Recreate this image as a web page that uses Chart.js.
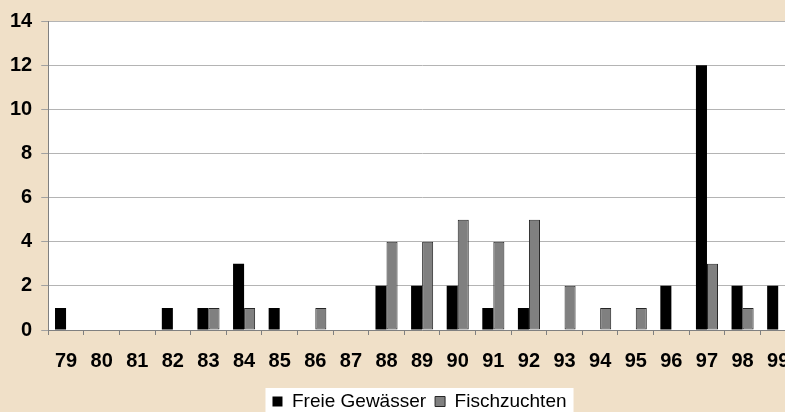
<!DOCTYPE html>
<html><head><meta charset="utf-8">
<script src="https://cdn.jsdelivr.net/npm/chart.js@4.4.1/dist/chart.umd.min.js"></script>
<style>
html,body{margin:0;padding:0;background:#F0E0C8;overflow:hidden;width:785px;height:412px;}
#wrap{position:absolute;left:0;top:0;width:840px;height:425px;}
</style></head><body>
<div id="wrap"><canvas id="c" width="840" height="425"></canvas></div>
<script>
const years = ['79','80','81','82','83','84','85','86','87','88','89','90','91','92','93','94','95','96','97','98','99'];
const freieGewaesser = [1,0,0,1,1,3,1,0,0,2,2,2,1,1,0,0,0,2,12,2,2];
const fischzuchten   = [0,0,0,0,1,1,0,1,0,4,4,5,4,5,2,1,1,0,3,1,0];
const seriesNames = ['Freie Gewässer','Fischzuchten'];
const yMin = 0, yMax = 14, yStep = 2;

const bgPlugin = {
  id: 'bg',
  afterLayout(chart) {
    const lg = chart.legend;
    if (lg) { lg.left += 21; lg.right += 21; lg.top -= 4; lg.bottom -= 4; }
  },
  beforeDraw(chart) {
    const {ctx, chartArea: a, width, height} = chart;
    ctx.save();
    ctx.fillStyle = '#F0E0C8';
    ctx.fillRect(0, 0, width, height);
    ctx.fillStyle = '#FFFFFF';
    ctx.fillRect(a.left, a.top, a.right - a.left, a.bottom - a.top);
    const lg = chart.legend;
    if (lg && lg.legendHitBoxes && lg.legendHitBoxes.length) {
      const hb = lg.legendHitBoxes;
      const last = hb[hb.length - 1];
      const x0 = hb[0].left - 7;
      const x1 = last.left + last.width + 7;
      const y0 = hb[0].top - 4;
      ctx.fillRect(x0, y0, x1 - x0, height - y0);
    }
    ctx.restore();
  }
};

new Chart(document.getElementById('c'), {
  type: 'bar',
  data: {
    labels: years,
    datasets: [
      { label: seriesNames[0], data: freieGewaesser, backgroundColor: '#000000', borderColor: '#000000', borderWidth: 0,
        categoryPercentage: 0.62, barPercentage: 1.0 },
      { label: seriesNames[1], data: fischzuchten, backgroundColor: '#808080', borderColor: '#262626', borderWidth: 1, borderSkipped: false,
        categoryPercentage: 0.62, barPercentage: 1.0 }
    ]
  },
  options: {
    responsive: false,
    animation: false,
    devicePixelRatio: 1,
    layout: { padding: { left: 1, top: 20, right: 44, bottom: 0 } },
    plugins: {
      legend: {
        position: 'bottom',
        labels: {
          color: '#000',
          font: { family: 'Liberation Sans, Arial, sans-serif', size: 19 },
          boxWidth: 10, boxHeight: 10, padding: 9
        }
      },
      tooltip: { enabled: false }
    },
    scales: {
      x: {
        grid: { display: true, drawOnChartArea: false, drawTicks: true, tickLength: 5, color: '#808080', offset: true },
        border: { display: true, color: '#808080', width: 1 },
        ticks: { color: '#000', font: { family: 'Liberation Sans, Arial, sans-serif', size: 20, weight: 'bold' }, padding: 14, maxRotation: 0, autoSkip: false }
      },
      y: {
        min: yMin, max: yMax,
        grid: { color: '#B4B4B4', tickLength: 7, tickColor: '#A0A0A0' },
        border: { display: true, color: '#808080', width: 1 },
        ticks: { stepSize: yStep, color: '#000', font: { family: 'Liberation Sans, Arial, sans-serif', size: 20, weight: 'bold' }, padding: 9 }
      }
    }
  },
  plugins: [bgPlugin]
});
</script>
</body></html>
